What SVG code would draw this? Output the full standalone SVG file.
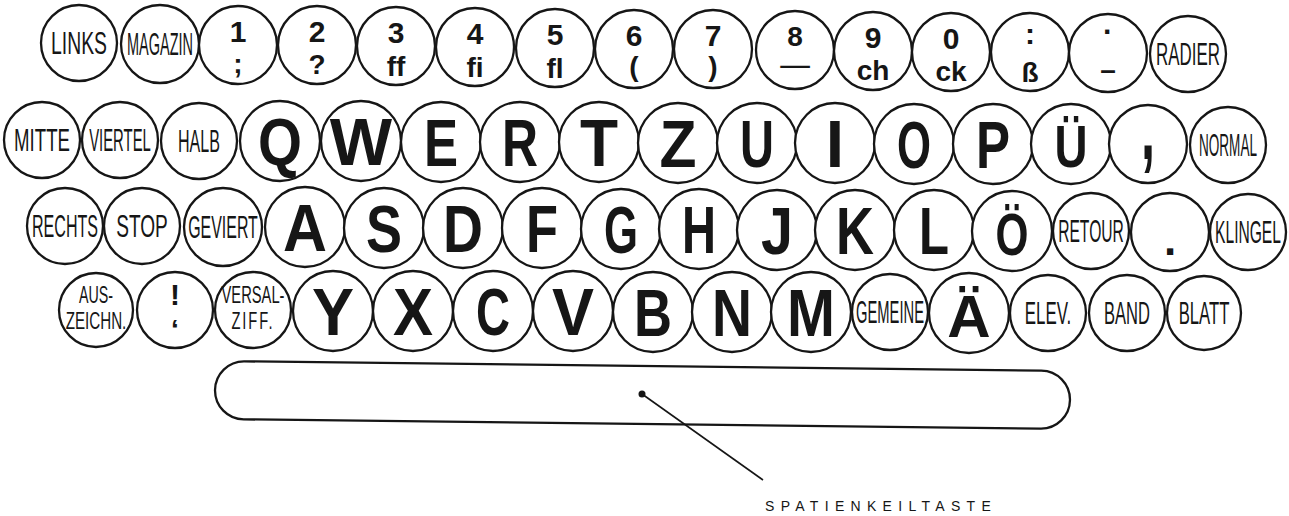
<svg xmlns="http://www.w3.org/2000/svg" width="1289" height="516" viewBox="0 0 1289 516">
<style>
.c{fill:#fff;stroke:#161616;stroke-width:2.3}
text{font-family:"Liberation Sans",Arial,sans-serif;fill:#161616;text-anchor:middle}
.lb{font-size:32px}
.l2{font-size:23px}
.ch{font-size:66px;font-weight:700}
.ux{font-size:60px;font-weight:700}
.dg{font-size:30px;font-weight:700}
.dl{font-size:28px;font-weight:700}
.cap{font-size:14px;letter-spacing:6.3px;text-anchor:start}
.ln{stroke:#161616;stroke-width:1.6;fill:none}
</style>
<rect width="1289" height="516" fill="#fff"/>
<!-- Row 1 -->
<g id="key-links"><circle class="c" cx="79" cy="43" r="38"/><text class="lb" transform="translate(79 54) scale(0.605 1)">LINKS</text></g>
<g id="key-magazin"><circle class="c" cx="160" cy="44" r="39"/><text class="lb" transform="translate(160 55) scale(0.453 1)">MAGAZIN</text></g>
<g id="key-1"><circle class="c" cx="238" cy="45" r="39"/><text class="dg" x="238" y="42">1</text><text class="dl" x="238" y="73">;</text></g>
<g id="key-2"><circle class="c" cx="317" cy="45" r="39"/><text class="dg" x="317" y="42">2</text><text class="dl" x="317" y="74">?</text></g>
<g id="key-3"><circle class="c" cx="396" cy="46" r="39"/><text class="dg" x="396" y="43">3</text><text class="dl" x="396" y="76">ff</text></g>
<g id="key-4"><circle class="c" cx="475" cy="47" r="39"/><text class="dg" x="475" y="44">4</text><text class="dl" x="475" y="77">fi</text></g>
<g id="key-5"><circle class="c" cx="555" cy="48" r="39"/><text class="dg" x="555" y="45">5</text><text class="dl" x="555" y="78">fl</text></g>
<g id="key-6"><circle class="c" cx="634" cy="49" r="39"/><text class="dg" x="634" y="46">6</text><text class="dl" x="634" y="76">(</text></g>
<g id="key-7"><circle class="c" cx="713" cy="49" r="39"/><text class="dg" x="713" y="46">7</text><text class="dl" x="713" y="76">)</text></g>
<g id="key-8"><circle class="c" cx="795" cy="50" r="39"/><text class="dg" x="795" y="46" style="font-size:28px">8</text><text transform="translate(795 73) scale(1.35 1)" style="font-size:22px;font-weight:700">—</text></g>
<g id="key-9"><circle class="c" cx="873" cy="51" r="39"/><text class="dg" x="873" y="48">9</text><text class="dl" x="873" y="80">ch</text></g>
<g id="key-0"><circle class="c" cx="951" cy="52" r="39"/><text class="dg" x="951" y="49">0</text><text class="dl" x="951" y="81">ck</text></g>
<g id="key-colon"><circle class="c" cx="1030" cy="52" r="39"/><text class="dg" x="1030" y="44">:</text><text class="dl" x="1030" y="82">ß</text></g>
<g id="key-dot-dash"><circle class="c" cx="1108" cy="53" r="39"/><text class="dg" x="1108" y="42">·</text><text class="dl" x="1108" y="79">–</text></g>
<g id="key-radier"><circle class="c" cx="1188" cy="54" r="38"/><text class="lb" transform="translate(1188 65) scale(0.529 1)">RADIER</text></g>
<!-- Row 2 -->
<g id="key-mitte"><circle class="c" cx="42" cy="140" r="38"/><text class="lb" transform="translate(42 151) scale(0.583 1)">MITTE</text></g>
<g id="key-viertel"><circle class="c" cx="120" cy="140" r="38"/><text class="lb" transform="translate(120 151) scale(0.465 1)">VIERTEL</text></g>
<g id="key-halb"><circle class="c" cx="199" cy="141" r="38"/><text class="lb" transform="translate(199 152) scale(0.502 1)">HALB</text></g>
<g id="key-q"><circle class="c" cx="280" cy="141" r="40"/><text class="ch" transform="translate(280 165) scale(0.857 1)">Q</text></g>
<g id="key-w"><circle class="c" cx="361" cy="141" r="40"/><text class="ch" x="361" y="165">W</text></g>
<g id="key-e"><circle class="c" cx="441" cy="142" r="40"/><text class="ch" transform="translate(441 166) scale(0.773 1)">E</text></g>
<g id="key-r"><circle class="c" cx="520" cy="142" r="40"/><text class="ch" transform="translate(520 166) scale(0.755 1)">R</text></g>
<g id="key-t"><circle class="c" cx="599" cy="142" r="40"/><text class="ch" transform="translate(599 166) scale(0.943 1)">T</text></g>
<g id="key-z"><circle class="c" cx="678" cy="143" r="40"/><text class="ch" transform="translate(678 167) scale(0.918 1)">Z</text></g>
<g id="key-u"><circle class="c" cx="757" cy="143" r="40"/><text class="ch" transform="translate(757 167) scale(0.713 1)">U</text></g>
<g id="key-i"><circle class="c" cx="835" cy="143" r="40"/><text class="ch" x="835" y="167">I</text></g>
<g id="key-o"><circle class="c" cx="914" cy="144" r="40"/><text class="ch" transform="translate(914 168) scale(0.663 1)">O</text></g>
<g id="key-p"><circle class="c" cx="993" cy="144" r="40"/><text class="ch" transform="translate(993 168) scale(0.773 1)">P</text></g>
<g id="key-ue"><circle class="c" cx="1071" cy="144" r="40"/><text class="ux" transform="translate(1071 167) scale(0.762 1)">Ü</text></g>
<g id="key-comma"><circle class="c" cx="1148" cy="144" r="39"/><text transform="translate(1148 159) scale(0.56 1)" style="font-size:90px;font-weight:700">,</text></g>
<g id="key-normal"><circle class="c" cx="1228" cy="145" r="38"/><text class="lb" transform="translate(1228 156) scale(0.424 1)">NORMAL</text></g>
<!-- Row 3 -->
<g id="key-rechts"><circle class="c" cx="65" cy="226" r="38"/><text class="lb" transform="translate(65 237) scale(0.502 1)">RECHTS</text></g>
<g id="key-stop"><circle class="c" cx="142" cy="226" r="38"/><text class="lb" transform="translate(142 237) scale(0.597 1)">STOP</text></g>
<g id="key-geviert"><circle class="c" cx="223" cy="227" r="39"/><text class="lb" transform="translate(223 238) scale(0.498 1)">GEVIERT</text></g>
<g id="key-a"><circle class="c" cx="305" cy="227" r="40"/><text class="ch" transform="translate(305 251) scale(0.923 1)">A</text></g>
<g id="key-s"><circle class="c" cx="384" cy="228" r="40"/><text class="ch" transform="translate(384 252) scale(0.818 1)">S</text></g>
<g id="key-d"><circle class="c" cx="463" cy="228" r="40"/><text class="ch" transform="translate(463 252) scale(0.839 1)">D</text></g>
<g id="key-f"><circle class="c" cx="542" cy="228" r="40"/><text class="ch" transform="translate(542 252) scale(0.794 1)">F</text></g>
<g id="key-g"><circle class="c" cx="621" cy="229" r="40"/><text class="ch" transform="translate(621 253) scale(0.663 1)">G</text></g>
<g id="key-h"><circle class="c" cx="699" cy="229" r="40"/><text class="ch" transform="translate(699 253) scale(0.713 1)">H</text></g>
<g id="key-j"><circle class="c" cx="777" cy="230" r="40"/><text class="ch" transform="translate(777 254) scale(0.872 1)">J</text></g>
<g id="key-k"><circle class="c" cx="855" cy="230" r="40"/><text class="ch" transform="translate(855 254) scale(0.797 1)">K</text></g>
<g id="key-l"><circle class="c" cx="934" cy="230" r="40"/><text class="ch" transform="translate(934 254) scale(0.744 1)">L</text></g>
<g id="key-oe"><circle class="c" cx="1012" cy="231" r="40"/><text class="ux" transform="translate(1012 255) scale(0.707 1)">Ö</text></g>
<g id="key-retour"><circle class="c" cx="1091" cy="231" r="38"/><text class="lb" transform="translate(1091 242) scale(0.489 1)">RETOUR</text></g>
<g id="key-period"><circle class="c" cx="1170" cy="232" r="39"/><text x="1170" y="255" style="font-size:44px;font-weight:700">.</text></g>
<g id="key-klingel"><circle class="c" cx="1248" cy="232" r="38"/><text class="lb" transform="translate(1248 243) scale(0.488 1)">KLINGEL</text></g>
<!-- Row 4 -->
<g id="key-auszeichn"><circle class="c" cx="96" cy="310" r="37"/><text class="l2" transform="translate(96 303) scale(0.62 1)">AUS-</text><text class="l2" transform="translate(96 329) scale(0.66 1)">ZEICHN.</text></g>
<g id="key-excl"><circle class="c" cx="175" cy="310" r="38"/><text class="dg" x="175" y="305">!</text><text class="dl" x="175" y="339">‘</text></g>
<g id="key-versalziff"><circle class="c" cx="253" cy="310" r="38"/><text class="l2" transform="translate(253 303) scale(0.64 1)">VERSAL-</text><text class="l2" transform="translate(253 329) scale(0.64 1)" letter-spacing="3">ZIFF.</text></g>
<g id="key-y"><circle class="c" cx="333" cy="311" r="40"/><text class="ch" transform="translate(333 335) scale(0.955 1)">Y</text></g>
<g id="key-x"><circle class="c" cx="413" cy="311" r="40"/><text class="ch" transform="translate(413 335) scale(0.909 1)">X</text></g>
<g id="key-c"><circle class="c" cx="493" cy="311" r="40"/><text class="ch" transform="translate(493 335) scale(0.713 1)">C</text></g>
<g id="key-v"><circle class="c" cx="573" cy="311" r="40"/><text class="ch" transform="translate(573 335) scale(0.955 1)">V</text></g>
<g id="key-b"><circle class="c" cx="653" cy="312" r="40"/><text class="ch" transform="translate(653 336) scale(0.797 1)">B</text></g>
<g id="key-n"><circle class="c" cx="732" cy="312" r="40"/><text class="ch" transform="translate(732 336) scale(0.839 1)">N</text></g>
<g id="key-m"><circle class="c" cx="811" cy="312" r="40"/><text class="ch" transform="translate(811 336) scale(0.873 1)">M</text></g>
<g id="key-gemeine"><circle class="c" cx="890" cy="312" r="38"/><text class="lb" transform="translate(890 323) scale(0.461 1)">GEMEINE</text></g>
<g id="key-ae"><circle class="c" cx="969" cy="313" r="40"/><text class="ux" x="969" y="337">Ä</text></g>
<g id="key-elev"><circle class="c" cx="1048" cy="313" r="38"/><text class="lb" transform="translate(1048 324) scale(0.529 1)">ELEV.</text></g>
<g id="key-band"><circle class="c" cx="1127" cy="313" r="38"/><text class="lb" transform="translate(1127 324) scale(0.517 1)">BAND</text></g>
<g id="key-blatt"><circle class="c" cx="1204" cy="313" r="37"/><text class="lb" transform="translate(1204 324) scale(0.522 1)">BLATT</text></g>
<!-- Space bar -->
<g id="key-spatienkeiltaste"><rect class="c" x="215" y="366" width="855" height="58" rx="29" transform="rotate(0.67 642 395)"/><circle cx="642" cy="394" r="3.5" fill="#161616"/></g>
<g id="connectors"><line class="ln" x1="642" y1="394" x2="763" y2="480"/></g>
<g id="label-spatienkeiltaste"><text class="cap" x="765" y="511">SPATIENKEILTASTE</text></g>
</svg>
